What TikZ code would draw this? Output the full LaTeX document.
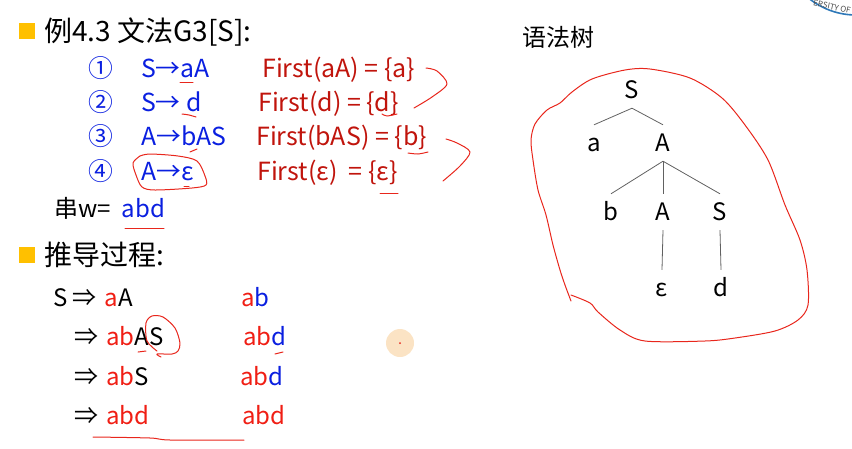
\documentclass[tikz,border=0pt]{standalone}
\usepackage{fontspec}
\setmainfont{Noto Sans CJK SC}
\usepackage{xcolor}
\definecolor{bulletorange}{HTML}{FFC000}
\definecolor{ruleblue}{HTML}{0A1FE0}
\definecolor{firstred}{HTML}{C0140C}
\definecolor{stepred}{HTML}{F01E14}
\definecolor{penred}{HTML}{E8261C}
\definecolor{logoblue}{HTML}{2E78B8}
\definecolor{pointerfill}{HTML}{FBE3C4}
\newcommand{\blu}[1]{\textcolor{ruleblue}{#1}}
\newcommand{\rd}[1]{\textcolor{stepred}{#1}}

\begin{document}
\begin{tikzpicture}[
  x=1pt,
  y=-1pt,
  bullet/.style={fill=bulletorange,minimum size=16pt,inner sep=0pt},
  heading/.style={anchor=base west,inner sep=0pt,font=\fontsize{28}{28}\selectfont},
  body/.style={anchor=base west,inner sep=0pt,font=\fontsize{24}{24}\selectfont},
  rule/.style={body,text=ruleblue,font=\fontsize{24.8}{25}\selectfont},
  first/.style={body,text=firstred,font=\fontsize{25}{25}\selectfont},
  treenode/.style={minimum height=36pt,inner sep=0pt,text height=17pt,text depth=0pt,
    font=\fontsize{24}{24}\selectfont},
  branch/.style={draw=black!62,line width=.8pt},
  pen/.style={draw=penred,line width=1pt,line cap=round,line join=round}
]
\useasboundingbox (0,0) rectangle (852,448);

\node[bullet] (bullettop) at (27,31) {};
\node[heading] (title) at (44,41) {例4.3 文法G3[S]:};

\node[rule] (numa) at (88,77) {①};
\node[rule] (numb) at (88,111) {②};
\node[rule] (numc) at (88,145) {③};
\node[rule] (numd) at (88,180) {④};
\node[rule] (rulea) at (141,77) {S→aA};
\node[rule] (ruleb) at (141,111) {S→ d};
\node[rule] (rulec) at (141,145) {A→bAS};
\node[rule] (ruled) at (141,180) {A→ε};
\node[first] (firsta) at (262,77) {First(aA) = \{a\}};
\node[first] (firstb) at (258,111) {First(d) = \{d\}};
\node[first] (firstc) at (256,145) {First(bAS) = \{b\}};
\node[first] (firstd) at (257,180) {First(ε)~ = \{ε\}};
\node[body] (string) at (54,217) {串w=\hspace{11pt}\blu{abd}};

\node[bullet] (bulletlow) at (27,255) {};
\node[heading] (derivtitle) at (44,265) {推导过程:};

\node[body] (stepa) at (53,306) {S ⇒\hspace{8pt}\rd{a}A};
\node[body] (stepb) at (74,345) {⇒\hspace{8pt}\rd{ab}AS};
\node[body] (stepc) at (74,385) {⇒\hspace{8pt}\rd{ab}S};
\node[body] (stepd) at (74,424) {⇒\hspace{8pt}\rd{abd}};
\node[body] (inputa) at (241,306) {\rd{a}\blu{b}};
\node[body] (inputb) at (243,345) {\rd{ab}\blu{d}};
\node[body] (inputc) at (240,385) {\rd{ab}\blu{d}};
\node[body] (inputd) at (242,424) {\rd{abd}};

\node[body] (treetitle) at (522,46) {语法树};

\node[treenode] (rootS) at (632,90) {S};
\node[treenode] (leafa) at (594,143) {a};
\node[treenode] (midA) at (663,143) {A};
\node[treenode] (leafb) at (611,212) {b};
\node[treenode] (lowA) at (663,212) {A};
\node[treenode] (lowS) at (720,212) {S};
\node[treenode] (leafe) at (662,288) {ε};
\node[treenode] (leafd) at (721,288) {d};

\draw[branch] (rootS.south) -- (leafa.north);
\draw[branch] (rootS.south) -- (midA.north);
\draw[branch] (midA.south) -- (leafb.north);
\draw[branch] (midA.south) -- (lowA.north);
\draw[branch] (midA.south) -- (lowS.north);
\draw[branch] (lowA.south) -- (leafe.north);
\draw[branch] (lowS.south) -- (leafd.north);

\draw[pen] plot[smooth] coordinates {(571,301) (565,285) (560,270) (553,245) (546,215) (538,190) (533,160) (531,140) (535,124) (547,110) (560,103) (572,92) (592,79) (625,70) (650,69) (690,78) (722,98) (745,125) (768,160) (785,205) (800,240) (807,270) (808,305) (798,320) (775,331) (735,338) (705,341) (645,341) (620,330) (598,312) (590,303) (571,295)};

\draw[pen] plot[smooth] coordinates {(426,68) (437,71) (447,84) (432,97) (414,108)};
\draw[pen] plot[smooth] coordinates {(446,139) (457,143) (470,152) (460,166) (443,181)};
\draw[pen] plot[smooth] coordinates {(140,156) (150,154) (178,156) (197,161) (205,176) (206,185) (192,188) (155,190) (142,187) (136,175) (133,163) (140,156)};
\draw[pen] (180,82) -- (193,82);
\draw[pen] plot[smooth] coordinates {(182,114) (189,115) (196,117)};
\draw[pen] (190,152) -- (197,149);
\draw[pen] (184,186) -- (189,186);
\draw[pen] plot[smooth] coordinates {(382,114) (387,116) (397,114)};
\draw[pen] plot[smooth] coordinates {(408,153) (418,154) (428,152)};
\draw[pen] (380,193) -- (398,193);
\draw[pen] (125,228) -- (164,228);
\draw[pen] plot[smooth] coordinates {(157,351) (147,341) (146,323) (152,316) (163,317) (175,328) (180,343) (178,351) (172,354) (157,354) (161,357)};
\draw[pen] (138,352) -- (146,351);
\draw[pen] plot[smooth] coordinates {(275,354) (279,353) (283,352)};
\draw[pen] plot[smooth] coordinates {(93,437) (150,438) (170,440) (244,440)};

\node[circle,fill=pointerfill,minimum size=28pt,inner sep=0pt] (pointer) at (400,343) {};
\node[circle,fill=penred,minimum size=2pt,inner sep=0pt] (pointerdot) at (400,343) {};

\begin{scope}
\clip (790,0) rectangle (852,30);
\draw[logoblue,line width=1.6pt] (856,-60) circle (75);
\node[rotate=-12,font=\fontsize{8}{8}\selectfont,text=black!70,inner sep=0pt] (logotext) at (832,7) {ERSITY OF};
\end{scope}
\end{tikzpicture}
\end{document}
